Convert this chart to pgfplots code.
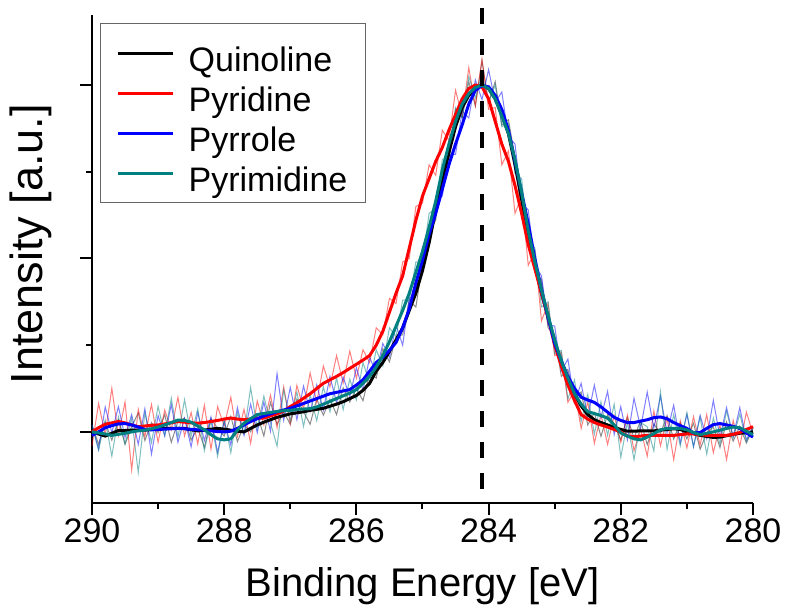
\documentclass[border=0pt]{standalone}
\usepackage{fontspec}
\setmainfont{Liberation Sans}
\usepackage{pgfplots}
\usepackage{pgfplotstable}
\pgfplotsset{compat=1.18}
\definecolor{pyrteal}{RGB}{0,128,128}

% x = binding energy, s = smoothed, r = raw
\pgfplotstableread{
x s r
290.0 0.0 0.02
289.9 -0.006 -0.036
289.8 -0.012 0.028
289.7 -0.004 -0.024
289.6 0.004 0.034
289.5 0.004 -0.036
289.4 0.005 0.015
289.3 0.005 0.055
289.2 0.005 -0.025
289.1 0.007 0.027
289.0 0.008 -0.002
288.9 0.01 0.05
288.8 0.01 -0.03
288.7 0.01 0.03
288.6 0.01 0.04
288.5 0.006 -0.024
288.4 0.003 0.013
288.3 0.005 -0.045
288.2 0.008 0.038
288.1 0.01 0.01
288.0 0.008 -0.012
287.9 0.005 0.045
287.8 0.002 -0.028
287.7 0.0 0.02
287.6 0.01 0.0
287.5 0.02 0.05
287.4 0.028 -0.012
287.3 0.035 0.085
287.2 0.042 0.022
287.1 0.047 0.057
287.0 0.052 0.022
286.9 0.055 0.095
286.8 0.058 0.058
286.7 0.062 0.022
286.6 0.065 0.095
286.5 0.068 0.048
286.4 0.074 0.094
286.3 0.08 0.05
286.2 0.087 0.127
286.1 0.096 0.086
286.0 0.105 0.125
285.9 0.12 0.09
285.8 0.14 0.17
285.7 0.175 0.155
285.6 0.20 0.24
285.5 0.232 0.202
285.4 0.265 0.275
285.3 0.30 0.28
285.2 0.35 0.38
285.1 0.40 0.36
285.0 0.465 0.485
284.9 0.545 0.575
284.8 0.64 0.61
284.7 0.725 0.765
284.6 0.805 0.785
284.5 0.88 0.93
284.4 0.935 0.905
284.3 0.97 1.01
284.2 0.99 0.94
284.1 1.0 1.07
284.0 0.99 0.95
283.9 0.96 1.01
283.8 0.915 0.885
283.7 0.86 0.90
283.6 0.77 0.79
283.5 0.67 0.62
283.4 0.56 0.59
283.3 0.48 0.46
283.2 0.40 0.44
283.1 0.33 0.30
283.0 0.26 0.28
282.9 0.20 0.16
282.8 0.15 0.18
282.7 0.11 0.10
282.6 0.075 0.115
282.5 0.05 0.02
282.4 0.035 0.055
282.3 0.027 -0.013
282.2 0.02 0.05
282.1 0.013 0.023
282.0 0.007 -0.023
281.9 0.002 0.042
281.8 0.002 -0.018
281.7 0.003 0.033
281.6 0.003 -0.037
281.5 0.003 0.023
281.4 0.005 -0.005
281.3 0.007 0.047
281.2 0.009 -0.021
281.1 0.007 0.027
281.0 0.0 -0.02
280.9 -0.005 0.025
280.8 -0.01 -0.05
280.7 -0.013 -0.003
280.6 -0.016 0.014
280.5 -0.015 -0.045
280.4 -0.011 0.029
280.3 -0.007 -0.027
280.2 -0.004 0.016
280.1 -0.002 -0.032
280.0 0.0 0.01
}\quinoline

\pgfplotstableread{
x s r
290.0 0.0 -0.04
289.9 0.012 0.082
289.8 0.022 -0.008
289.7 0.026 0.126
289.6 0.03 -0.01
289.5 0.026 0.086
289.4 0.02 -0.11
289.3 0.015 0.065
289.2 0.017 -0.013
289.1 0.019 0.079
289.0 0.02 -0.03
288.9 0.023 0.063
288.8 0.026 0.006
288.7 0.03 0.10
288.6 0.028 -0.012
288.5 0.026 0.056
288.4 0.025 -0.035
288.3 0.027 0.077
288.2 0.03 -0.05
288.1 0.033 0.073
288.0 0.037 0.017
287.9 0.04 0.10
287.8 0.037 -0.013
287.7 0.035 0.065
287.6 0.037 -0.033
287.5 0.039 0.089
287.4 0.04 0.02
287.3 0.046 0.106
287.2 0.052 0.012
287.1 0.06 0.13
287.0 0.073 0.023
286.9 0.084 0.134
286.8 0.097 0.067
286.7 0.11 0.17
286.6 0.125 0.085
286.5 0.14 0.19
286.4 0.15 0.13
286.3 0.16 0.22
286.2 0.171 0.141
286.1 0.183 0.233
286.0 0.195 0.155
285.9 0.207 0.237
285.8 0.22 0.20
285.7 0.25 0.30
285.6 0.29 0.28
285.5 0.345 0.385
285.4 0.40 0.37
285.3 0.45 0.49
285.2 0.53 0.50
285.1 0.61 0.65
285.0 0.68 0.66
284.9 0.73 0.77
284.8 0.78 0.74
284.7 0.82 0.87
284.6 0.87 0.84
284.5 0.915 0.985
284.4 0.96 0.91
284.3 0.99 1.05
284.2 1.0 0.94
284.1 0.995 1.075
284.0 0.96 0.93
283.9 0.895 0.935
283.8 0.83 0.77
283.7 0.78 0.81
283.6 0.71 0.63
283.5 0.63 0.68
283.4 0.54 0.48
283.3 0.47 0.52
283.2 0.40 0.32
283.1 0.33 0.37
283.0 0.25 0.22
282.9 0.19 0.23
282.8 0.135 0.085
282.7 0.09 0.12
282.6 0.05 0.01
282.5 0.037 0.087
282.4 0.027 -0.033
282.3 0.02 0.05
282.2 0.014 -0.036
282.1 0.007 0.047
282.0 0.0 -0.03
281.9 -0.012 0.048
281.8 -0.014 -0.054
281.7 -0.012 0.008
281.6 -0.01 -0.07
281.5 -0.01 0.06
281.4 -0.01 -0.04
281.3 -0.01 0.04
281.2 -0.01 -0.08
281.1 -0.008 0.032
281.0 -0.006 -0.046
280.9 -0.006 0.044
280.8 -0.008 -0.038
280.7 -0.01 0.05
280.6 -0.01 -0.06
280.5 -0.01 0.02
280.4 -0.01 -0.08
280.3 -0.007 0.033
280.2 -0.002 -0.042
280.1 0.007 0.057
280.0 0.015 -0.005
}\pyridine

\pgfplotstableread{
x s r
290.0 -0.01 0.02
289.9 0.0 -0.05
289.8 0.012 0.072
289.7 0.018 -0.002
289.6 0.023 0.073
289.5 0.024 -0.016
289.4 0.02 0.05
289.3 0.014 -0.036
289.2 0.007 0.067
289.1 0.006 -0.064
289.0 0.007 0.047
288.9 0.008 -0.012
288.8 0.009 0.079
288.7 0.01 -0.03
288.6 0.009 0.039
288.5 0.007 -0.043
288.4 0.006 0.056
288.3 0.005 -0.025
288.2 0.003 0.043
288.1 0.001 -0.059
288.0 0.0 0.03
287.9 0.002 -0.038
287.8 0.01 0.07
287.7 0.02 -0.01
287.6 0.03 0.08
287.5 0.038 -0.002
287.4 0.046 0.086
287.3 0.052 0.002
287.2 0.058 0.168
287.1 0.063 0.033
287.0 0.068 0.128
286.9 0.075 0.035
286.8 0.082 0.132
286.7 0.089 0.059
286.6 0.096 0.136
286.5 0.103 0.063
286.4 0.11 0.16
286.3 0.114 0.084
286.2 0.118 0.158
286.1 0.122 0.102
286.0 0.135 0.185
285.9 0.15 0.12
285.8 0.175 0.215
285.7 0.20 0.17
285.6 0.215 0.255
285.5 0.235 0.215
285.4 0.258 0.308
285.3 0.30 0.25
285.2 0.355 0.385
285.1 0.43 0.40
285.0 0.495 0.535
284.9 0.57 0.54
284.8 0.63 0.67
284.7 0.70 0.68
284.6 0.77 0.80
284.5 0.83 0.80
284.4 0.885 0.925
284.3 0.945 0.905
284.2 0.985 1.015
284.1 0.998 0.958
284.0 0.995 1.045
283.9 0.97 0.95
283.8 0.93 0.98
283.7 0.87 0.85
283.6 0.78 0.83
283.5 0.69 0.66
283.4 0.60 0.64
283.3 0.50 0.48
283.2 0.41 0.45
283.1 0.33 0.31
283.0 0.255 0.305
282.9 0.205 0.175
282.8 0.16 0.21
282.7 0.125 0.085
282.6 0.10 0.14
282.5 0.092 0.042
282.4 0.085 0.135
282.3 0.072 0.042
282.2 0.057 0.117
282.1 0.042 -0.008
282.0 0.033 0.073
281.9 0.027 -0.023
281.8 0.027 0.097
281.7 0.031 0.011
281.6 0.035 0.115
281.5 0.041 0.011
281.4 0.043 0.103
281.3 0.038 -0.002
281.2 0.027 0.077
281.1 0.018 -0.032
281.0 0.01 0.05
280.9 -0.003 -0.043
280.8 -0.002 0.048
280.7 0.01 -0.02
280.6 0.021 0.091
280.5 0.024 -0.016
280.4 0.02 0.07
280.3 0.016 -0.014
280.2 0.01 0.07
280.1 -0.003 -0.023
280.0 -0.015 0.015
}\pyrrole

\pgfplotstableread{
x s r
290.0 0.0 0.02
289.9 -0.003 -0.053
289.8 -0.006 0.034
289.7 -0.01 -0.07
289.6 -0.007 0.043
289.5 -0.004 -0.034
289.4 0.0 0.04
289.3 0.003 -0.117
289.2 0.005 0.055
289.1 0.009 -0.031
289.0 0.014 0.074
288.9 0.02 -0.01
288.8 0.027 0.097
288.7 0.034 -0.016
288.6 0.033 0.093
288.5 0.028 -0.012
288.4 0.017 0.067
288.3 0.006 -0.054
288.2 -0.008 0.032
288.1 -0.02 -0.07
288.0 -0.023 0.037
287.9 -0.02 -0.06
287.8 0.005 0.055
287.7 0.025 -0.005
287.6 0.038 0.128
287.5 0.05 0.01
287.4 0.053 0.103
287.3 0.056 0.026
287.2 0.059 -0.041
287.1 0.061 0.121
287.0 0.062 0.032
286.9 0.065 0.115
286.8 0.066 0.016
286.7 0.067 0.107
286.6 0.072 0.032
286.5 0.08 0.13
286.4 0.088 0.058
286.3 0.096 0.156
286.2 0.104 0.064
286.1 0.112 0.152
286.0 0.122 0.092
285.9 0.14 0.20
285.8 0.16 0.14
285.7 0.187 0.237
285.6 0.22 0.19
285.5 0.26 0.30
285.4 0.305 0.275
285.3 0.35 0.38
285.2 0.40 0.38
285.1 0.46 0.49
285.0 0.52 0.49
284.9 0.59 0.63
284.8 0.665 0.645
284.7 0.755 0.785
284.6 0.83 0.80
284.5 0.895 0.935
284.4 0.945 0.905
284.3 0.975 1.025
284.2 0.993 0.963
284.1 1.0 1.03
284.0 0.99 0.95
283.9 0.96 1.0
283.8 0.91 0.88
283.7 0.86 0.89
283.6 0.785 0.745
283.5 0.69 0.73
283.4 0.58 0.55
283.3 0.49 0.53
283.2 0.41 0.36
283.1 0.335 0.375
283.0 0.265 0.225
282.9 0.205 0.235
282.8 0.155 0.095
282.7 0.11 0.15
282.6 0.08 0.03
282.5 0.058 0.108
282.4 0.053 -0.007
282.3 0.047 0.087
282.2 0.04 -0.01
282.1 0.02 0.08
282.0 -0.003 -0.073
281.9 -0.012 0.028
281.8 -0.02 -0.08
281.7 -0.023 0.027
281.6 -0.015 0.015
281.5 -0.005 -0.055
281.4 0.006 0.116
281.3 0.01 -0.05
281.2 0.01 0.05
281.1 0.01 -0.04
281.0 0.006 0.056
280.9 -0.002 -0.042
280.8 -0.008 0.042
280.7 -0.004 -0.064
280.6 0.0 0.04
280.5 0.005 -0.035
280.4 0.01 0.06
280.3 0.014 -0.016
280.2 0.012 0.052
280.1 0.002 -0.028
280.0 -0.008 0.012
}\pyrimidine

\begin{document}
\begin{tikzpicture}
\useasboundingbox (-92pt,-106pt) rectangle (695pt,503pt);
\begin{axis}[
  scale only axis,
  width=661pt, height=488pt,
  x dir=reverse,
  xmin=280, xmax=290,
  ymin=-0.205, ymax=1.202,
  clip=false,
  axis x line*=bottom, axis y line*=left,
  axis line style={line width=2.5pt, -},
  xtick={280,282,...,290}, minor x tick num=1,
  ytick={0,0.5,1}, minor y tick num=1, yticklabels={},
  tick align=outside,
  major tick length=12pt, minor tick length=6pt,
  tick style={black, line width=2pt},
  /pgf/number format/assume math mode=true,
  tick label style={font=\fontsize{34}{40}\selectfont},
  xlabel={Binding Energy [eV]},
  xlabel style={font=\fontsize{40}{48}\selectfont, at={(axis description cs:0.5,0)}, anchor=base, yshift=-94pt},
  ylabel={Intensity [a.u.]},
  ylabel style={font=\fontsize{45}{54}\selectfont, at={(axis description cs:-0.092,0.53)}, anchor=center, rotate=0},
  legend style={at={(rel axis cs:0.012,0.984)}, anchor=north west,
    draw=black!60, line width=1.5pt, inner xsep=16pt, inner ysep=7pt,
    font=\fontsize{34}{41}\selectfont,
    row sep=-5pt,
    nodes={inner sep=2pt, text height=39pt, text depth=2pt},
    /tikz/every odd column/.append style={column sep=12pt}},
  legend cell align=left,
  legend image code/.code={\draw[#1, line width=3pt] (0pt,0pt) -- (55pt,0pt);},
]
% raw spectra
\addplot[forget plot, black, opacity=0.45, line width=1pt] table[x=x, y=r] {\quinoline};
\addplot[forget plot, red, opacity=0.5, line width=1pt] table[x=x, y=r] {\pyridine};
\addplot[forget plot, blue, opacity=0.5, line width=1pt] table[x=x, y=r] {\pyrrole};
\addplot[forget plot, pyrteal, opacity=0.5, line width=1pt] table[x=x, y=r] {\pyrimidine};
% smoothed spectra
\addplot[black, line width=3pt] table[x=x, y=s] {\quinoline};
\addlegendentry{Quinoline}
\addplot[red, line width=3pt] table[x=x, y=s] {\pyridine};
\addlegendentry{Pyridine}
\addplot[blue, line width=3pt] table[x=x, y=s] {\pyrrole};
\addlegendentry{Pyrrole}
\addplot[pyrteal, line width=3pt] table[x=x, y=s] {\pyrimidine};
\addlegendentry{Pyrimidine}
% peak position
\addplot[forget plot, black, line width=4pt, dash pattern=on 16pt off 15pt] coordinates {(284.1,1.222) (284.1,-0.205)};
\end{axis}
\end{tikzpicture}
\end{document}
